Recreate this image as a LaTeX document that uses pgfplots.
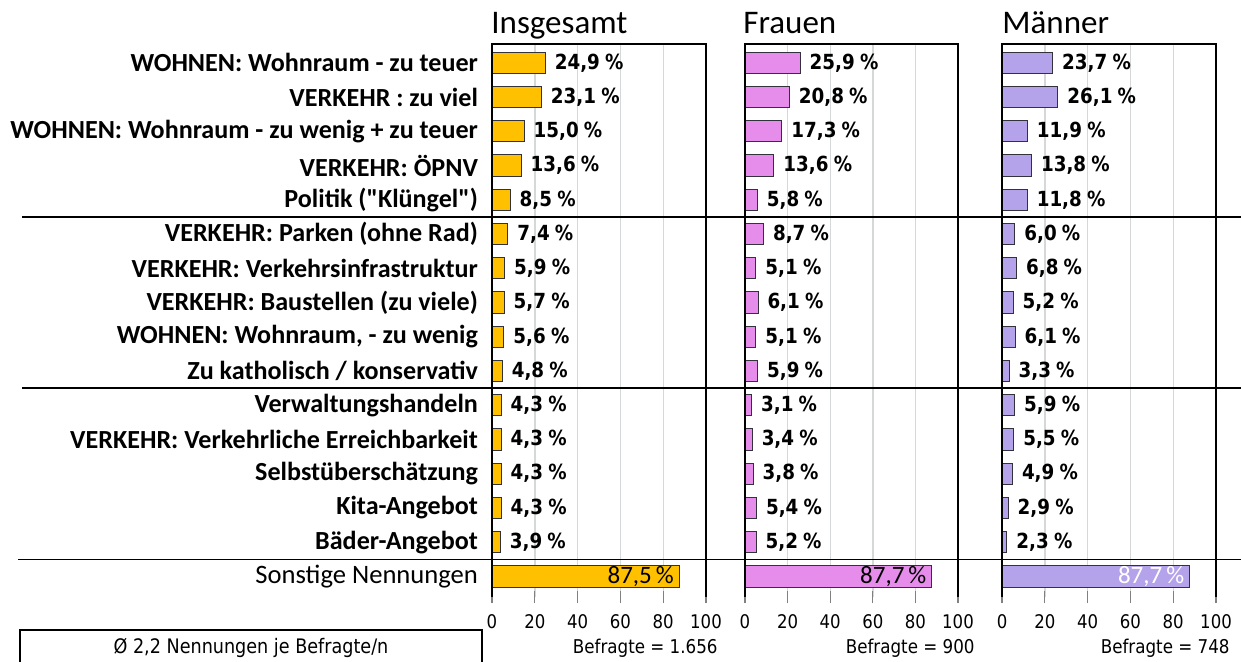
\documentclass[border=0pt]{standalone}
\usepackage{fontspec}
\setmainfont{Carlito}[Ligatures=TeXOff]
\newfontfamily\vfont{DejaVu Sans}[FakeStretch=0.88]
\usepackage{pgfplots}
\pgfplotsset{compat=1.18}
\definecolor{orng}{RGB}{255,192,0}
\definecolor{pinkc}{RGB}{230,140,235}
\definecolor{lav}{RGB}{180,162,235}
\definecolor{gridc}{RGB}{212,216,216}
\definecolor{barline}{RGB}{50,50,60}
\pgfplotsset{
  panel/.style={
    scale only axis, width=107pt, height=276.5pt, anchor=north west,
    xbar, bar width=0.62, bar shift=0,
    xmin=0, xmax=100, ymin=-0.6, ymax=15.55,
    xtick={0,20,...,100}, ytick={0,...,15},
    axis line style={draw=none},
    xmajorgrids, major grid style={gridc, line width=0.7pt},
    tick align=center, xtick pos=left, xticklabel pos=left,
    major tick length=6pt,
    xtick style={gray, line width=0.6pt},
    ytick style={draw=none},
    /pgf/number format/assume math mode=true,
    xticklabel style={font=\vfont\fontsize{9.4}{11}\selectfont, yshift=-2pt},
    clip=false,
    point meta=x,
    every axis plot/.append style={draw=barline, line width=0.5pt},
  },
  vals/.style={
    nodes near coords={\pgfmathprintnumber[fixed,fixed zerofill,precision=1,use comma]{\pgfplotspointmeta}\kern2.6pt\%},
    every node near coord/.append style={font=\vfont\bfseries\fontsize{10.4}{12}\selectfont, anchor=west, inner sep=0pt, xshift=4.5pt, text=black},
  },
  inval/.style={
    nodes near coords={\pgfmathprintnumber[fixed,fixed zerofill,precision=1,use comma]{\pgfplotspointmeta}\kern2pt\%},
    every node near coord/.append style={font=\fontsize{12.5}{14}\selectfont, anchor=east, inner sep=0pt, xshift=-2.5pt, text=#1},
  },
}
\begin{document}
\begin{tikzpicture}
\useasboundingbox (0,0) rectangle (620.5pt,330.5pt);

% ---------------- Insgesamt
\begin{axis}[panel, at={(246pt,308.5pt)},
  yticklabels={{\fontsize{13.3}{15}\selectfont Sonstige Nennungen},
    {\textbf{Bäder-Angebot}},
    {\textbf{Kita-Angebot}},
    {\textbf{Selbstüberschätzung}},
    {\textbf{VERKEHR: Verkehrliche Erreichbarkeit}},
    {\textbf{Verwaltungshandeln}},
    {\textbf{Zu katholisch / konservativ}},
    {\textbf{WOHNEN: Wohnraum, - zu wenig}},
    {\textbf{VERKEHR: Baustellen (zu viele)}},
    {\textbf{VERKEHR: Verkehrsinfrastruktur}},
    {\textbf{VERKEHR: Parken (ohne Rad)}},
    {\textbf{Politik ("Klüngel")}},
    {\textbf{VERKEHR: ÖPNV}},
    {\textbf{WOHNEN: Wohnraum - zu wenig + zu teuer}},
    {\textbf{VERKEHR : zu viel}},
    {\textbf{WOHNEN: Wohnraum - zu teuer}}},
  yticklabel style={font=\fontsize{13.05}{15}\selectfont, anchor=east, xshift=-0.5pt},
]
\addplot[fill=orng, vals] coordinates {
 (24.9,15) (23.1,14) (15.0,13) (13.6,12) (8.5,11)
 (7.4,10) (5.9,9) (5.7,8) (5.6,7) (4.8,6)
 (4.3,5) (4.3,4) (4.3,3) (4.3,2) (3.9,1)};
\addplot[fill=orng, inval=black] coordinates {(87.5,0)};
\draw[black, line width=0.7pt] (rel axis cs:0,0) -- (rel axis cs:0,1) -- (rel axis cs:1,1) -- (rel axis cs:1,0);
\end{axis}

% ---------------- Frauen
\begin{axis}[panel, at={(372.5pt,308.5pt)}, width=106.5pt, yticklabels={}]
\addplot[fill=pinkc, vals] coordinates {
 (25.9,15) (20.8,14) (17.3,13) (13.6,12) (5.8,11)
 (8.7,10) (5.1,9) (6.1,8) (5.1,7) (5.9,6)
 (3.1,5) (3.4,4) (3.8,3) (5.4,2) (5.2,1)};
\addplot[fill=pinkc, inval=black] coordinates {(87.7,0)};
\draw[black, line width=0.7pt] (rel axis cs:0,0) -- (rel axis cs:0,1) -- (rel axis cs:1,1) -- (rel axis cs:1,0);
\end{axis}

% ---------------- Maenner
\begin{axis}[panel, at={(501pt,308.5pt)}, yticklabels={}]
\addplot[fill=lav, vals] coordinates {
 (23.7,15) (26.1,14) (11.9,13) (13.8,12) (11.8,11)
 (6.0,10) (6.8,9) (5.2,8) (6.1,7) (3.3,6)
 (5.9,5) (5.5,4) (4.9,3) (2.9,2) (2.3,1)};
\addplot[fill=lav, inval=white] coordinates {(87.7,0)};
\draw[black, line width=0.7pt] (rel axis cs:0,0) -- (rel axis cs:0,1) -- (rel axis cs:1,1) -- (rel axis cs:1,0);
\end{axis}

% titles
\node[anchor=base west, inner sep=0pt, font=\fontsize{16.5}{18}\selectfont] at (245.5pt,314pt) {Insgesamt};
\node[anchor=base west, inner sep=0pt, font=\fontsize{16.5}{18}\selectfont] at (371.5pt,314pt) {Frauen};
\node[anchor=base west, inner sep=0pt, font=\fontsize{16.5}{18}\selectfont] at (501pt,314pt) {Männer};

% separators
\draw[black, line width=0.8pt] (11pt,222pt) -- (620.5pt,222pt);
\draw[black, line width=0.8pt] (11pt,136.4pt) -- (620.5pt,136.4pt);
\draw[black, line width=0.8pt] (9pt,50.8pt) -- (620.5pt,50.8pt);

% bottom notes
\draw[black, line width=0.6pt] (10pt,-5pt) rectangle (241pt,15.5pt);
\node[font=\vfont\fontsize{10}{11}\selectfont, inner sep=0pt] at (125.5pt,6.5pt) {Ø 2,2 Nennungen je Befragte/n};
\node[anchor=east, font=\vfont\fontsize{9.5}{11}\selectfont, inner sep=0pt] at (359pt,6.5pt) {Befragte = 1.656};
\node[anchor=east, font=\vfont\fontsize{9.5}{11}\selectfont, inner sep=0pt] at (487.5pt,6.5pt) {Befragte = 900};
\node[anchor=east, font=\vfont\fontsize{9.5}{11}\selectfont, inner sep=0pt] at (615pt,6.5pt) {Befragte = 748};
\end{tikzpicture}
\end{document}
